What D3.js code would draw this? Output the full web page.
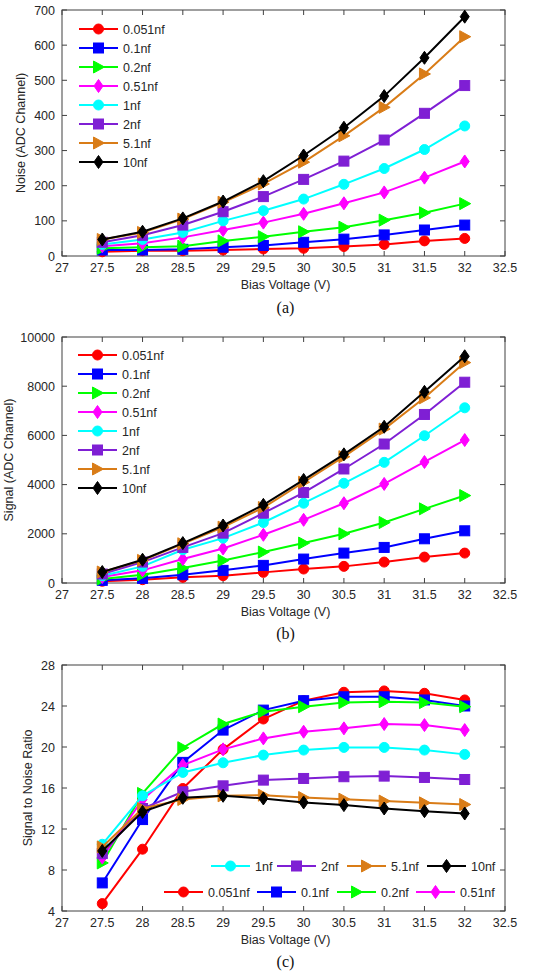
<!DOCTYPE html>
<html><head><meta charset="utf-8">
<script src="https://cdn.jsdelivr.net/npm/d3@7"></script>
<style>body{margin:0;background:#fff}svg{display:block}</style>
</head><body>
<svg id="c" width="538" height="971"></svg>
<script>
const voltages = [27.5,28,28.5,29,29.5,30,30.5,31,31.5,32];
const seriesNames = ["0.051nf","0.1nf","0.2nf","0.51nf","1nf","2nf","5.1nf","10nf"];
const seriesColors = ["#ff0000","#0000ff","#00ff00","#ff00ff","#00ffff","#7f1fd4","#d97c17","#000000"];
const seriesMarkers = ["circle","square","triangle","diamond","circle","square","triangle","diamond"];

const noise = [
  [12,15,15,17,20,22,27,33,43,50],
  [17,17,19,25,30,39,48,60,74,88],
  [22,25,28,43,55,69,82,102,123,149],
  [28,36,53,74,95,120,150,181,223,269],
  [33,47,67,100,129,162,204,249,303,370],
  [39,59,88,126,169,218,270,330,406,485],
  [47,67,105,153,205,267,342,423,518,624],
  [47,69,107,155,213,286,365,455,564,681]
];
const signal = [
  [70,135,230,297,432,568,676,851,1054,1216],
  [108,189,338,514,716,973,1216,1446,1797,2122],
  [162,338,608,919,1257,1622,2000,2459,3014,3554],
  [243,514,973,1405,1959,2568,3243,4027,4919,5811],
  [297,676,1351,1824,2459,3243,4054,4905,5986,7122],
  [365,851,1446,2027,2838,3676,4635,5649,6851,8162],
  [446,919,1595,2270,3068,4095,5135,6257,7527,8959],
  [446,946,1622,2338,3176,4189,5230,6351,7770,9216]
];
const snr = [
  [4.72,10.03,15.95,19.77,22.73,24.52,25.34,25.47,25.24,24.59],
  [6.74,12.92,18.5,21.65,23.6,24.52,24.9,24.9,24.59,24.0],
  [8.69,15.47,19.93,22.24,23.45,23.93,24.33,24.42,24.33,23.93],
  [9.21,14.88,18.23,19.77,20.84,21.49,21.82,22.24,22.14,21.65],
  [10.51,15.24,17.52,18.46,19.21,19.7,19.96,19.96,19.7,19.28],
  [9.6,14.0,15.63,16.21,16.77,16.93,17.1,17.16,17.03,16.83],
  [10.25,14.0,14.88,15.24,15.3,15.07,14.91,14.72,14.55,14.39],
  [9.86,13.67,15.04,15.24,14.98,14.59,14.33,14.0,13.74,13.51]
];
const xTicks = [27,27.5,28,28.5,29,29.5,30,30.5,31,31.5,32,32.5];
const noiseTicks = [0,100,200,300,400,500,600,700];
const signalTicks = [0,2000,4000,6000,8000,10000];
const snrTicks = [4,8,12,16,20,24,28];

const svg = d3.select("#c");
const FONT = "Liberation Sans, Arial, sans-serif";
const TXT = "#262626";
const AX = "#404040";

function marker(g, type, x, y, color){
  let el;
  if(type==="circle") el = g.append("circle").attr("cx",x).attr("cy",y).attr("r",5);
  else if(type==="square") el = g.append("rect").attr("x",x-5).attr("y",y-5).attr("width",10).attr("height",10);
  else if(type==="triangle") el = g.append("path").attr("d",`M${x-5},${y-6}L${x+6},${y}L${x-5},${y+6}Z`);
  else el = g.append("path").attr("d",`M${x},${y-6.5}L${x+4.5},${y}L${x},${y+6.5}L${x-4.5},${y}Z`);
  el.attr("fill",color).attr("stroke",color).attr("stroke-width",1);
}

function panel(cfg){
  const {top,bottom,left,right,data,yDomain,yTicks,yTitle,yTitleX,caption,captionY,legend} = cfg;
  const x = d3.scaleLinear().domain([27,32.5]).range([left,right]);
  const y = d3.scaleLinear().domain(yDomain).range([bottom,top]);
  const g = svg.append("g");
  g.append("rect").attr("x",left).attr("y",top).attr("width",right-left).attr("height",bottom-top)
    .attr("fill","none").attr("stroke",AX).attr("stroke-width",1);
  const tl = 5;
  xTicks.forEach(t=>{
    g.append("line").attr("x1",x(t)).attr("x2",x(t)).attr("y1",bottom).attr("y2",bottom-tl).attr("stroke",AX);
    g.append("line").attr("x1",x(t)).attr("x2",x(t)).attr("y1",top).attr("y2",top+tl).attr("stroke",AX);
    g.append("text").attr("x",x(t)).attr("y",bottom+16).attr("text-anchor","middle")
      .attr("font-family",FONT).attr("font-size",12.5).attr("fill",TXT).text(t);
  });
  yTicks.forEach(t=>{
    g.append("line").attr("x1",left).attr("x2",left+tl).attr("y1",y(t)).attr("y2",y(t)).attr("stroke",AX);
    g.append("line").attr("x1",right).attr("x2",right-tl).attr("y1",y(t)).attr("y2",y(t)).attr("stroke",AX);
    g.append("text").attr("x",left-7).attr("y",y(t)+4.5).attr("text-anchor","end")
      .attr("font-family",FONT).attr("font-size",12.5).attr("fill",TXT).text(t);
  });
  g.append("text").attr("x",(left+right)/2+2).attr("y",bottom+33).attr("text-anchor","middle")
    .attr("font-family",FONT).attr("font-size",12.5).attr("fill",TXT).text("Bias Voltage (V)");
  g.append("text").attr("transform",`translate(${yTitleX},${(top+bottom)/2}) rotate(-90)`)
    .attr("text-anchor","middle").attr("font-family",FONT).attr("font-size",12.5).attr("fill",TXT).text(yTitle);
  g.append("text").attr("x",(left+right)/2+2).attr("y",captionY).attr("text-anchor","middle")
    .attr("font-family","Liberation Serif, Times New Roman, serif").attr("font-size",16).attr("fill","#111").text(caption);
  const line = d3.line().x((d,i)=>x(voltages[i])).y(d=>y(d));
  data.forEach((s,k)=>{
    const sg = g.append("g");
    sg.append("path").attr("d",line(s)).attr("fill","none").attr("stroke",seriesColors[k]).attr("stroke-width",2);
    s.forEach((v,i)=>marker(sg,seriesMarkers[k],x(voltages[i]),y(v),seriesColors[k]));
  });
  legend.forEach(it=>{
    const k = it.k;
    g.append("line").attr("x1",it.x).attr("x2",it.x+39).attr("y1",it.y).attr("y2",it.y)
      .attr("stroke",seriesColors[k]).attr("stroke-width",2);
    marker(g,seriesMarkers[k],it.x+19.5,it.y,seriesColors[k]);
    g.append("text").attr("x",it.x+44).attr("y",it.y+4.5).attr("font-family",FONT).attr("font-size",12.5)
      .attr("fill",TXT).text(seriesNames[k]);
  });
}

const legA = seriesNames.map((n,k)=>({k, x:79, y:29+k*19}));
panel({top:10,bottom:256,left:62,right:505,data:noise,yDomain:[0,700],yTicks:noiseTicks,
  yTitle:"Noise (ADC Channel)",yTitleX:25,caption:"(a)",captionY:313,legend:legA});
const legB = seriesNames.map((n,k)=>({k, x:78, y:355+k*19}));
panel({top:337,bottom:583,left:62,right:505,data:signal,yDomain:[0,10000],yTicks:signalTicks,
  yTitle:"Signal (ADC Channel)",yTitleX:13,caption:"(b)",captionY:639,legend:legB});
const legC = [
  {k:4,x:211,y:866},{k:5,x:277,y:866},{k:6,x:347,y:866},{k:7,x:427,y:866},
  {k:0,x:164,y:892},{k:1,x:257,y:892},{k:2,x:337,y:892},{k:3,x:416,y:892}
];
panel({top:665,bottom:911,left:62,right:505,data:snr,yDomain:[4,28],yTicks:snrTicks,
  yTitle:"Signal to Noise Ratio",yTitleX:32,caption:"(c)",captionY:967,legend:legC});
</script>
</body></html>
